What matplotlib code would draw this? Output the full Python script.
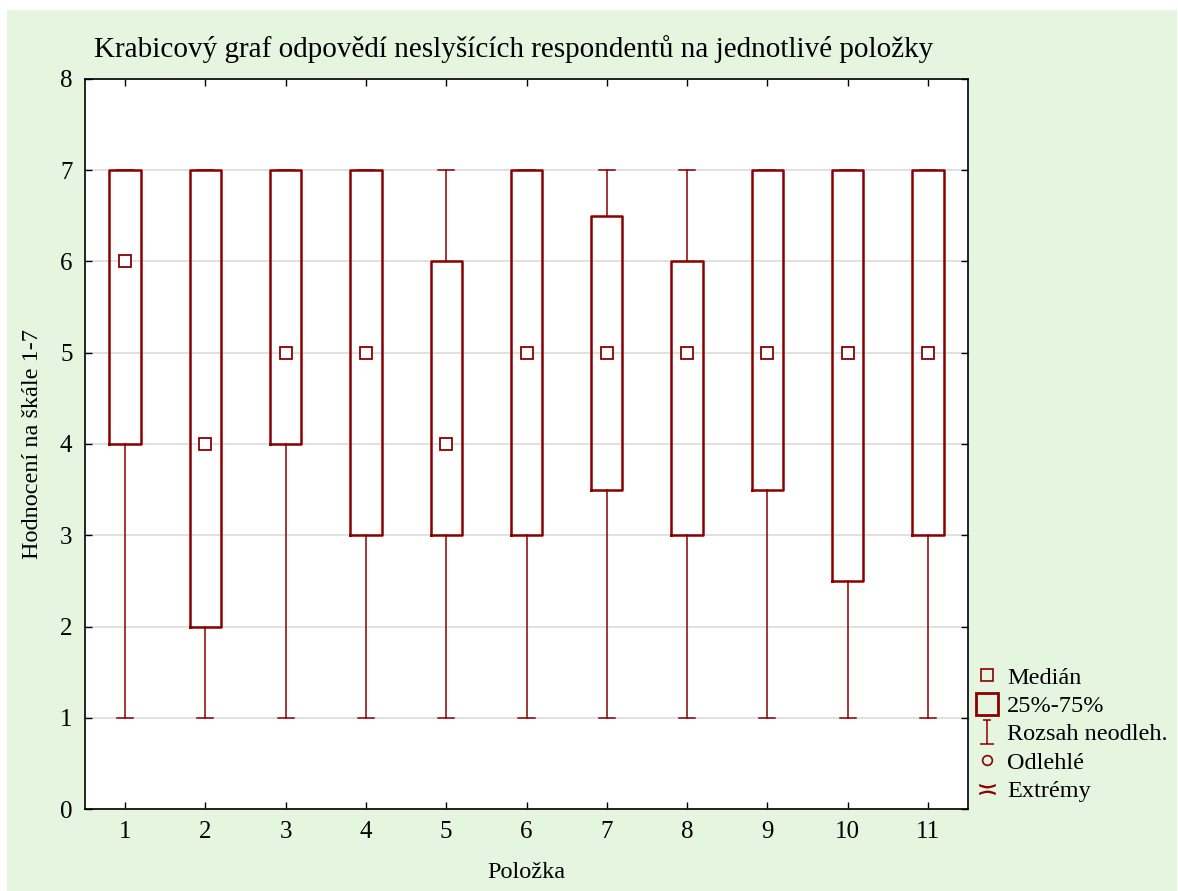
import matplotlib.pyplot as plt
from matplotlib.lines import Line2D
from matplotlib.patches import Rectangle
from matplotlib.path import Path

# item numbers and box-plot statistics
items = [1, 2, 3, 4, 5, 6, 7, 8, 9, 10, 11]
medians = [6, 4, 5, 5, 4, 5, 5, 5, 5, 5, 5]
q1 = [4, 2, 4, 3, 3, 3, 3.5, 3, 3.5, 2.5, 3]
q3 = [7, 7, 7, 7, 6, 7, 6.5, 6, 7, 7, 7]
whisker_lo = [1] * 11
whisker_hi = [7] * 11

red = '#8b0000'
green = '#e6f5df'

plt.rcParams['font.family'] = ['Liberation Serif', 'DejaVu Serif']

W, H = 1178, 891
fig = plt.figure(figsize=(W / 100, H / 100), dpi=100)
fig.patch.set_facecolor('white')
fig.patches.append(Rectangle((7 / W, 0), (W - 8) / W, (H - 10) / H,
                             transform=fig.transFigure, facecolor=green,
                             edgecolor='none', zorder=-10))

ax = fig.add_axes([85 / W, (H - 809) / H, (968 - 85) / W, (809 - 79) / H])

stats = []
for i in range(len(items)):
    stats.append({'med': medians[i], 'q1': q1[i], 'q3': q3[i],
                  'whislo': whisker_lo[i], 'whishi': whisker_hi[i],
                  'fliers': [], 'label': str(items[i])})

ax.bxp(stats, positions=items, widths=0.39, showfliers=False,
       boxprops=dict(color=red, linewidth=1.8),
       whiskerprops=dict(color=red, linewidth=1.1),
       capprops=dict(color=red, linewidth=1.1),
       medianprops=dict(linestyle='none'),
       capwidths=0.2)
ax.plot(items, medians, linestyle='none', marker='s', markersize=8,
        markerfacecolor='white', markeredgecolor=red, markeredgewidth=1.3,
        zorder=3)

ax.set_xlim(0.5, 11.5)
ax.set_ylim(0, 8)
ax.set_yticks(range(0, 9))
ax.set_xticks(items)
ax.set_xticklabels([str(i) for i in items])
ax.grid(axis='y', color='#dcdcdc', linewidth=1.2)
ax.set_axisbelow(True)
ax.tick_params(direction='in', top=True, right=True, length=5, width=1,
               labelsize=18, pad=9)
for s in ax.spines.values():
    s.set_linewidth(1.2)

ax.set_title('Krabicový graf odpovědí neslyšících respondentů na jednotlivé položky',
             fontsize=21, pad=16, loc='left', x=0.01)
ax.set_xlabel('Položka', fontsize=17.5, labelpad=13)
ax.set_ylabel('Hodnocení na škále 1-7', fontsize=17.5, labelpad=12)

# I-shaped whisker symbol for the legend
whisker_sym = Path([(-0.3, 1), (0.3, 1), (0, 1), (0, -1), (-0.6, -1), (0.6, -1)],
                   [Path.MOVETO, Path.LINETO, Path.MOVETO, Path.LINETO,
                    Path.MOVETO, Path.LINETO])

handles = [
    Line2D([], [], linestyle='none', marker='s', markersize=8,
           markerfacecolor='none', markeredgecolor=red, markeredgewidth=1.2),
    Line2D([], [], linestyle='none', marker='s', markersize=16,
           markerfacecolor='none', markeredgecolor=red, markeredgewidth=2),
    Line2D([], [], linestyle='none', marker=whisker_sym, markersize=17,
           markerfacecolor='none', markeredgecolor=red, markeredgewidth=1.1),
    Line2D([], [], linestyle='none', marker='o', markersize=7,
           markerfacecolor='none', markeredgecolor=red, markeredgewidth=1.2),
    Line2D([], [], linestyle='none', marker='$\\asymp$', markersize=12,
           markeredgewidth=0, color=red),
]
labels = ['Medián', '25%-75%', 'Rozsah neodleh.', 'Odlehlé', 'Extrémy']
fig.legend(handles, labels, loc='upper left', bbox_to_anchor=(968 / W, 1 - 657 / H),
           frameon=False, fontsize=17.5, handlelength=0.8, handletextpad=0.4,
           labelspacing=0.26, borderaxespad=0)

fig.savefig('out.png', dpi=100, facecolor=fig.get_facecolor())
